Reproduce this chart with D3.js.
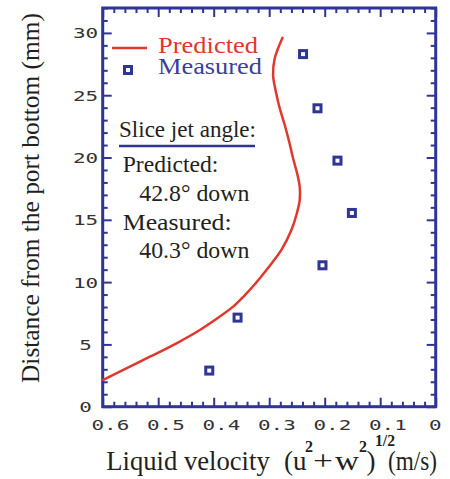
<!DOCTYPE html>
<html>
<head>
<meta charset="utf-8">
<script src="https://cdn.jsdelivr.net/npm/d3@7"></script>
<style>
  html, body { margin: 0; padding: 0; background: #ffffff; }
  svg { display: block; }
</style>
</head>
<body>
<svg id="chart" width="450" height="479"></svg>
<script>
// Axis ticks and their labels
const xMajorTicks = [0.6, 0.5, 0.4, 0.3, 0.2, 0.1, 0];
const xTickLabels = ["0.6", "0.5", "0.4", "0.3", "0.2", "0.1", "0"];
const xMinorStep = 0.02;
const yMajorTicks = [0, 5, 10, 15, 20, 25, 30];
const yTickLabels = ["0", "5", "10", "15", "20", "25", "30"];
const yMinorStep = 1;

// Predicted liquid velocity profile (m/s) against height above the port bottom (mm)
const predictedVelocity = [0.600, 0.551, 0.515, 0.467, 0.425, 0.398, 0.365, 0.345, 0.324, 0.305,
                           0.278, 0.260, 0.250, 0.245, 0.245, 0.249, 0.257, 0.264, 0.272, 0.281,
                           0.288, 0.293, 0.290, 0.276];
const predictedHeight   = [2.14, 3.21, 4.01, 5.09, 6.16, 6.96, 8.03, 8.90, 9.93, 10.97,
                           12.58, 14.18, 15.55, 16.59, 17.66, 18.60, 19.94, 21.27, 22.61, 23.95,
                           25.28, 26.62, 27.96, 29.61];

// Measured liquid velocity (m/s) and height (mm)
const measuredVelocity = [0.239, 0.213, 0.177, 0.151, 0.204, 0.357, 0.408];
const measuredHeight   = [28.3, 23.95, 19.75, 15.55, 11.35, 7.15, 2.9];

const BLUE = "#2e3593";
const RED = "#e1372c";
const INK = "#231f20";
const TICK_INK = "#333333";
const SERIF = "'Liberation Serif', 'Times New Roman', serif";
const MONO = "'DejaVu Sans Mono', monospace";

const plot = { left: 102.7, right: 435.7, top: 8, bottom: 406.7 };

const svg = d3.select("#chart");

const x = d3.scaleLinear().domain([0.6, 0]).range([plot.left, plot.right]);
const y = d3.scaleLinear().domain([0, 32]).range([plot.bottom, plot.top]);

const isMajor = (v, majors) => majors.some(m => Math.abs(m - v) < 1e-6);
const xMinor = d3.range(0, 0.6 + 1e-9, xMinorStep).map(v => +v.toFixed(2)).filter(v => !isMajor(v, xMajorTicks));
const yMinor = d3.range(0, 32 + 1e-9, yMinorStep).filter(v => !isMajor(v, yMajorTicks));

function styleTicks(g) {
  g.select(".domain").remove();
  g.selectAll("line").attr("stroke", BLUE).attr("stroke-width", 2);
}

const MAJOR = 9, MINOR = 5;

// Bottom axis: inward ticks plus labels
const bottom = svg.append("g").attr("transform", `translate(0,${plot.bottom})`)
  .call(d3.axisBottom(x).tickValues(xMajorTicks).tickSize(-MAJOR)
    .tickFormat((d, i) => xTickLabels[i]))
  .call(styleTicks);
bottom.selectAll("text")
  .attr("font-family", MONO).attr("font-size", 14).attr("fill", TICK_INK)
  .attr("text-anchor", "start")
  .attr("x", d => d === 0 ? -7.2 : -11.7)
  .attr("y", 23.3).attr("dy", 0)
  .attr("textLength", function () { return this.textContent.length * 12.6; })
  .attr("lengthAdjust", "spacingAndGlyphs");
svg.append("g").attr("transform", `translate(0,${plot.bottom})`)
  .call(d3.axisBottom(x).tickValues(xMinor).tickSize(-MINOR).tickFormat(""))
  .call(styleTicks);

// Top axis
svg.append("g").attr("transform", `translate(0,${plot.top})`)
  .call(d3.axisTop(x).tickValues(xMajorTicks).tickSize(-MAJOR).tickFormat(""))
  .call(styleTicks);
svg.append("g").attr("transform", `translate(0,${plot.top})`)
  .call(d3.axisTop(x).tickValues(xMinor).tickSize(-MINOR).tickFormat(""))
  .call(styleTicks);

// Left axis with labels
const left = svg.append("g").attr("transform", `translate(${plot.left},0)`)
  .call(d3.axisLeft(y).tickValues(yMajorTicks).tickSize(-MAJOR)
    .tickFormat((d, i) => yTickLabels[i]))
  .call(styleTicks);
left.selectAll("text")
  .attr("font-family", MONO).attr("font-size", 14).attr("fill", TICK_INK)
  .attr("text-anchor", "middle")
  .attr("x", -17.2).attr("dy", "0.36em")
  .attr("textLength", function () { return this.textContent.length * 12.6; })
  .attr("lengthAdjust", "spacingAndGlyphs");
svg.append("g").attr("transform", `translate(${plot.left},0)`)
  .call(d3.axisLeft(y).tickValues(yMinor).tickSize(-MINOR).tickFormat(""))
  .call(styleTicks);

// Right axis
svg.append("g").attr("transform", `translate(${plot.right},0)`)
  .call(d3.axisRight(y).tickValues(yMajorTicks).tickSize(-MAJOR).tickFormat(""))
  .call(styleTicks);
svg.append("g").attr("transform", `translate(${plot.right},0)`)
  .call(d3.axisRight(y).tickValues(yMinor).tickSize(-MINOR).tickFormat(""))
  .call(styleTicks);

// Plot frame
svg.append("rect")
  .attr("x", plot.left).attr("y", plot.top)
  .attr("width", plot.right - plot.left).attr("height", plot.bottom - plot.top)
  .attr("fill", "none").attr("stroke", BLUE).attr("stroke-width", 3);

// Predicted profile
const predicted = predictedVelocity.map((v, i) => ({ v, h: predictedHeight[i] }));
svg.append("path")
  .datum(predicted)
  .attr("fill", "none").attr("stroke", RED).attr("stroke-width", 2.5)
  .attr("stroke-linejoin", "round").attr("stroke-linecap", "round")
  .attr("d", d3.line().x(d => x(d.v)).y(d => y(d.h)).curve(d3.curveCatmullRom));

// Measured points
const measured = measuredVelocity.map((v, i) => ({ v, h: measuredHeight[i] }));
const SQ = 7;
svg.append("g").selectAll("rect")
  .data(measured).join("rect")
  .attr("x", d => x(d.v) - SQ / 2).attr("y", d => y(d.h) - SQ / 2)
  .attr("width", SQ).attr("height", SQ)
  .attr("fill", "none").attr("stroke", BLUE).attr("stroke-width", 3);

// Text helper
function txt(parent, px, py, s, o = {}) {
  const t = parent.append("text").attr("x", px).attr("y", py).text(s)
    .attr("font-family", o.family || SERIF).attr("font-size", o.size || 23)
    .attr("fill", o.fill || INK);
  if (o.weight) t.attr("font-weight", o.weight);
  if (o.width) t.attr("textLength", o.width).attr("lengthAdjust", "spacingAndGlyphs");
  if (o.anchor) t.attr("text-anchor", o.anchor);
  return t;
}

// Legend
svg.append("line").attr("x1", 112).attr("x2", 147).attr("y1", 48).attr("y2", 48)
  .attr("stroke", RED).attr("stroke-width", 2.5);
txt(svg, 158, 53, "Predicted", { size: 23.5, fill: RED, width: 100 });
svg.append("rect").attr("x", 128 - SQ / 2).attr("y", 70 - SQ / 2).attr("width", SQ).attr("height", SQ)
  .attr("fill", "none").attr("stroke", BLUE).attr("stroke-width", 3);
txt(svg, 158, 74, "Measured", { size: 23.5, fill: "#3a3f9c", width: 104 });

// Jet angle note
txt(svg, 119, 137, "Slice jet angle:", { size: 23, width: 137 });
svg.append("line").attr("x1", 119).attr("x2", 255).attr("y1", 146).attr("y2", 146)
  .attr("stroke", BLUE).attr("stroke-width", 2.5);
txt(svg, 122.7, 171.7, "Predicted:", { size: 23, width: 95.7 });
txt(svg, 139.3, 200.7, "42.8° down", { size: 23, width: 110 });
txt(svg, 122.7, 230, "Measured:", { size: 23, width: 109 });
txt(svg, 139.3, 258.3, "40.3° down", { size: 23, width: 110 });

// Axis titles
txt(svg, 0, 0, "Distance from the port bottom (mm)", { size: 25, width: 370, anchor: "middle" })
  .attr("transform", "translate(39,198) rotate(-90)");

const xt = svg.append("g");
txt(xt, 106.3, 470, "Liquid velocity", { size: 27, width: 163.4 });
txt(xt, 284, 470, "(u", { size: 27 });
txt(xt, 305, 452, "2", { size: 16, weight: "bold" });
txt(xt, 313, 470, "+", { size: 27, width: 20 });
txt(xt, 335, 470, "w", { size: 27, width: 24 });
txt(xt, 359, 452, "2", { size: 16, weight: "bold" });
txt(xt, 366.5, 470, ")", { size: 27 });
txt(xt, 375, 446, "1/2", { size: 16, weight: "bold", width: 20 });
txt(xt, 388, 470, "(m/s)", { size: 27, width: 49 });
</script>
</body>
</html>
